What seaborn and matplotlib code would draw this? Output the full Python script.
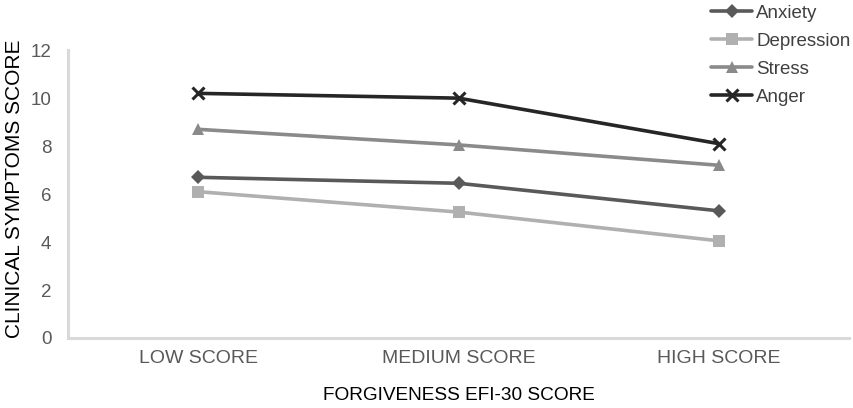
import pandas as pd
import matplotlib
matplotlib.use('Agg')
import matplotlib.pyplot as plt
import seaborn as sns

categories = ['LOW SCORE', 'MEDIUM SCORE', 'HIGH SCORE']
anxiety = [6.7, 6.45, 5.3]
depression = [6.1, 5.25, 4.05]
stress = [8.7, 8.05, 7.2]
anger = [10.2, 10.0, 8.1]

series = ['Anxiety', 'Depression', 'Stress', 'Anger']
values = [anxiety, depression, stress, anger]

rows = []
for name, vals in zip(series, values):
    for cat, v in zip(categories, vals):
        rows.append({'group': cat, 'symptom': name, 'score': v})
data = pd.DataFrame(rows)

sns.set_theme(style='white')
plt.rcParams['font.family'] = ['Liberation Sans', 'DejaVu Sans']

colors = {'Anxiety': '#595959', 'Depression': '#b0b0b0', 'Stress': '#8a8a8a', 'Anger': '#262626'}
markers = {'Anxiety': 'D', 'Depression': 's', 'Stress': '^', 'Anger': 'x'}
msizes = {'Anxiety': 7, 'Depression': 8.5, 'Stress': 9, 'Anger': 9}

fig = plt.figure(figsize=(8.54, 4.08), dpi=100)
ax = fig.add_axes([0.0796, 0.1716, 0.915, 0.7054])

for name in series:
    sub = data[data['symptom'] == name]
    sns.lineplot(data=sub, x='group', y='score', ax=ax, color=colors[name],
                 linewidth=2.6, marker=markers[name], markersize=msizes[name],
                 markeredgewidth=2.2 if name == 'Anger' else 0,
                 markeredgecolor=colors[name], label=name, sort=False)

ax.set_xlim(-0.5, 2.5)
ax.set_ylim(0, 12)
ax.set_yticks(range(0, 13, 2))
for s in ['top', 'right']:
    ax.spines[s].set_visible(False)
for s in ['left', 'bottom']:
    ax.spines[s].set_color('#d9d9d9')
    ax.spines[s].set_linewidth(2.2)
ax.tick_params(axis='both', length=0, colors='#595959', labelsize=13.5)
ax.tick_params(axis='y', pad=12)
ax.tick_params(axis='x', pad=9)
for lab in ax.get_xticklabels():
    lab.set_fontsize(14)
ax.set_xlabel('FORGIVENESS EFI-30 SCORE', fontsize=13.7, color='black', labelpad=14)
ax.set_ylabel('CLINICAL SYMPTOMS SCORE', fontsize=15, color='black')
ax.yaxis.set_label_coords(-0.056, 0.52)

leg = ax.legend(loc='upper left', bbox_to_anchor=(0.823, 1.158), frameon=False,
                fontsize=13.5, handlelength=2.2, handletextpad=0.2,
                labelspacing=0.58, borderaxespad=0, borderpad=0)
for t in leg.get_texts():
    t.set_color('#404040')

plt.savefig('out.png', dpi=100)
